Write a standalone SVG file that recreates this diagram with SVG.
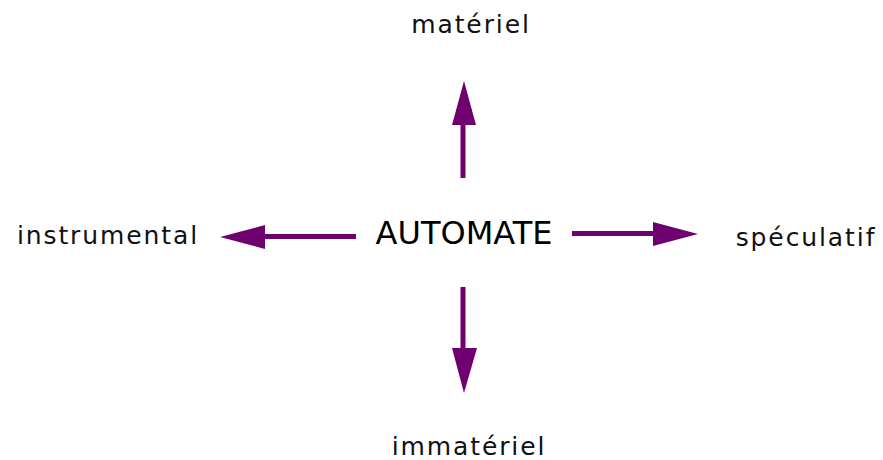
<svg xmlns="http://www.w3.org/2000/svg" width="883" height="460" viewBox="0 0 883 460">
<style>
.lbl{font-family:"DejaVu Sans",sans-serif;font-size:25px;letter-spacing:1.9px;fill:#111}
.main{font-family:"DejaVu Sans",sans-serif;font-size:32px;fill:#000}
.shaft{stroke:#6e006f;stroke-width:5;fill:none}
.head{fill:#6e006f}
</style>
<rect width="883" height="460" fill="#fff"/>
<g id="connectors">
<line class="shaft" x1="463" y1="178" x2="463" y2="120"/>
<polygon class="head" points="464,81 476,125 452,125"/>
<line class="shaft" x1="572" y1="233.5" x2="658" y2="233.5"/>
<polygon class="head" points="698,234 653,222 653,246"/>
<line class="shaft" x1="356" y1="236.5" x2="260" y2="236.5"/>
<polygon class="head" points="220,237 265,225 265,249"/>
<line class="shaft" x1="463" y1="287" x2="463" y2="352"/>
<polygon class="head" points="464,393 452,348 477,348"/>
</g>
<g id="center"><text class="main" x="464" y="244" text-anchor="middle">AUTOMATE</text></g>
<g id="materiel"><text class="lbl" x="471" y="33" text-anchor="middle">matériel</text></g>
<g id="instrumental"><text class="lbl" x="108" y="244" text-anchor="middle">instrumental</text></g>
<g id="speculatif"><text class="lbl" x="806" y="246" text-anchor="middle">spéculatif</text></g>
<g id="immateriel"><text class="lbl" x="469" y="455" text-anchor="middle">immatériel</text></g>
</svg>
